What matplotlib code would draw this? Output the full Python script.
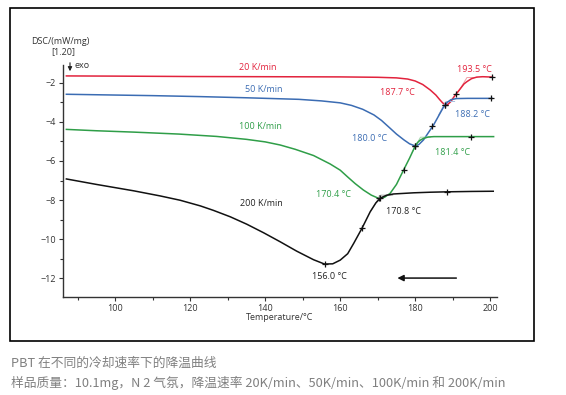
import matplotlib
matplotlib.use("Agg")
import matplotlib.pyplot as plt
from matplotlib.patches import Rectangle, FancyArrowPatch
from matplotlib.ticker import MultipleLocator

plt.rcParams['font.family'] = ['Open Sans', 'Noto Sans CJK SC', 'DejaVu Sans']

# 20 K/min
t_20 = [87, 100, 120, 140, 160, 170, 175, 178, 180, 182, 184, 185.5, 186.5, 187.3, 188,
        188.7, 189.5, 190.3, 191.1, 192, 193, 193.8, 195, 196.4, 198, 200.6]
v_20 = [-1.64, -1.65, -1.67, -1.68, -1.69, -1.71, -1.74, -1.8, -1.9, -2.08, -2.36, -2.62, -2.85,
        -3.02, -3.12, -3.1, -2.95, -2.72, -2.52, -2.3, -2.05, -1.93, -1.78, -1.7, -1.68, -1.7]

# 50 K/min
t_50 = [87, 100, 110, 122.7, 135, 149, 155, 160, 163, 166, 169, 171, 173.3, 175, 177, 178.5,
        180, 181, 182.2, 183.5, 184.9, 186.2, 187.5, 188.5, 189.5, 191, 194, 200.5]
v_50 = [-2.58, -2.62, -2.65, -2.7, -2.76, -2.84, -2.92, -3.02, -3.15, -3.35, -3.64, -3.92, -4.32,
        -4.62, -4.92, -5.12, -5.23, -5.15, -4.92, -4.55, -4.15, -3.7, -3.25, -3.0, -2.86, -2.8,
        -2.79, -2.79]

# 100 K/min
t_100 = [87, 95, 105, 117, 127, 135, 140, 144, 148, 152.9, 157.3, 160, 162, 164, 166.2, 168.3,
         170.2, 171.8, 173.3, 175, 176.9, 178.5, 180, 180.6, 181.2, 182.2, 183.5, 185, 195, 200.9]
v_100 = [-4.38, -4.45, -4.52, -4.62, -4.74, -4.89, -5.02, -5.18, -5.4, -5.72, -6.15, -6.47, -6.82,
         -7.16, -7.49, -7.75, -7.91, -7.86, -7.66, -7.2, -6.46, -5.85, -5.23, -5.06, -4.95, -4.84,
         -4.77, -4.75, -4.75, -4.75]

# 200 K/min
t_200 = [87, 95, 105, 112, 117.3, 122.7, 126.2, 130.7, 135.1, 139.6, 144, 148.4, 152.9, 155.8,
         158, 160, 162, 163.6, 165.8, 168, 169.5, 170.7, 172.3, 174.2, 179.6, 184, 188.4, 195, 200.8]
v_200 = [-6.92, -7.2, -7.53, -7.79, -8.01, -8.3, -8.53, -8.86, -9.24, -9.68, -10.14, -10.62, -11.06,
         -11.28, -11.27, -11.08, -10.75, -10.22, -9.45, -8.6, -8.15, -7.9, -7.76, -7.69, -7.63,
         -7.6, -7.58, -7.56, -7.55]

# 标记点 (+)
mk_20 = ([188, 190.9, 200.6], [-3.12, -2.58, -1.7])
mk_50 = ([180, 184.6, 188, 200.3], [-5.23, -4.19, -3.12, -2.79])
mk_100 = ([170.3, 176.9, 180, 194.8], [-7.91, -6.46, -5.23, -4.75])
mk_200 = ([156, 165.8, 170.5, 188.6], [-11.28, -9.45, -7.92, -7.58])

# 外推起始切线
tan_20 = ([191.5, 193.8, 196.5], [-2.45, -1.72, -1.72])
tan_50 = ([186.2, 188.2, 190.5], [-3.65, -2.95, -2.95])
tan_100 = ([179.2, 181.4, 184], [-5.55, -4.78, -4.78])
tan_200 = ([168.2, 170.8, 174], [-8.55, -7.75, -7.75])

red = '#e2233d'
blue = '#3b6cb3'
green = '#2f9e48'
black = '#111111'

fig = plt.figure(figsize=(5.66, 3.95), dpi=100)
ax = fig.add_axes([63/566, 1-297/395, (497-63)/566, (297-65)/395])

for t, v, mk, tg, c, lc in [(t_20, v_20, mk_20, tan_20, red, '#f0a0a8'),
                            (t_50, v_50, mk_50, tan_50, blue, '#a9bfe0'),
                            (t_100, v_100, mk_100, tan_100, green, '#a6d6af'),
                            (t_200, v_200, mk_200, tan_200, black, '#aaaaaa')]:
    ax.plot(tg[0], tg[1], color=lc, lw=0.7)
    ax.plot(t, v, color=c, lw=1.1)
    ax.plot(mk[0], mk[1], ls='none', marker='+', ms=5, mew=0.9, color=black)

fs = 6.5
ax.text(138, -1.2, '20 K/min', color=red, fontsize=fs, ha='center', va='center')
ax.text(139.5, -2.36, '50 K/min', color=blue, fontsize=fs, ha='center', va='center')
ax.text(138.7, -4.23, '100 K/min', color=green, fontsize=fs, ha='center', va='center')
ax.text(139, -8.2, '200 K/min', color='#222222', fontsize=fs, ha='center', va='center')
ax.text(195.7, -1.33, '193.5 °C', color=red, fontsize=fs, ha='center', va='center')
ax.text(175.2, -2.5, '187.7 °C', color=red, fontsize=fs, ha='center', va='center')
ax.text(195.2, -3.64, '188.2 °C', color=blue, fontsize=fs, ha='center', va='center')
ax.text(167.7, -4.87, '180.0 °C', color=blue, fontsize=fs, ha='center', va='center')
ax.text(189.9, -5.54, '181.4 °C', color=green, fontsize=fs, ha='center', va='center')
ax.text(158.1, -7.74, '170.4 °C', color=green, fontsize=fs, ha='center', va='center')
ax.text(177, -8.6, '170.8 °C', color='#222222', fontsize=fs, ha='center', va='center')
ax.text(157, -11.92, '156.0 °C', color='#222222', fontsize=fs, ha='center', va='center')

# 降温方向箭头
ax.annotate('', xy=(174.5, -12.0), xytext=(191.7, -12.0),
            arrowprops=dict(arrowstyle='-|>', color=black, lw=1.1, mutation_scale=9))

ax.set_xlim(86.1, 201.8)
ax.set_ylim(-12.97, -1.08)
ax.xaxis.set_major_locator(MultipleLocator(20))
ax.xaxis.set_minor_locator(MultipleLocator(10))
ax.yaxis.set_major_locator(MultipleLocator(2))
ax.yaxis.set_minor_locator(MultipleLocator(1))
ax.tick_params(which='both', direction='out', labelsize=fs, colors='#333333', width=0.8)
ax.tick_params(which='major', length=3, pad=2)
ax.tick_params(which='minor', length=2)
for s in ['top', 'right']:
    ax.spines[s].set_visible(False)
for s in ['left', 'bottom']:
    ax.spines[s].set_color('#333333')
    ax.spines[s].set_linewidth(1.0)
ax.set_xlabel('Temperature/°C', fontsize=fs, color='#333333', labelpad=0)

fig.text(60/566, 1-42/395, 'DSC/(mW/mg)', fontsize=fs, color='#333333', ha='center', va='center')
fig.text(63/566, 1-52/395, '[1.20]', fontsize=fs, color='#333333', ha='center', va='center')
fig.text(74/566, 1-66/395, 'exo', fontsize=fs, color='#333333', ha='left', va='center')
fig.patches.append(FancyArrowPatch(
    (70/566, 1-60/395), (70/566, 1-74/395), transform=fig.transFigure,
    arrowstyle='-|>', mutation_scale=6, color='#222222', lw=0.8))

fig.patches.append(Rectangle((10/566, 1-341/395), (534-10)/566, (341-8)/395,
                             transform=fig.transFigure, fill=False, ec='black', lw=1.2))

cap_font = ['Noto Sans CJK SC', 'DejaVu Sans']
fig.text(11/566, 1-363/395, 'PBT 在不同的冷却速率下的降温曲线', fontsize=9.2,
         color='#808080', family=cap_font, ha='left', va='center')
fig.text(11/566, 1-383/395, '样品质量：10.1mg，N 2 气氛，降温速率 20K/min、50K/min、100K/min 和 200K/min',
         fontsize=9.2, color='#808080', family=cap_font, ha='left', va='center')

fig.savefig('out.png', dpi=100)
